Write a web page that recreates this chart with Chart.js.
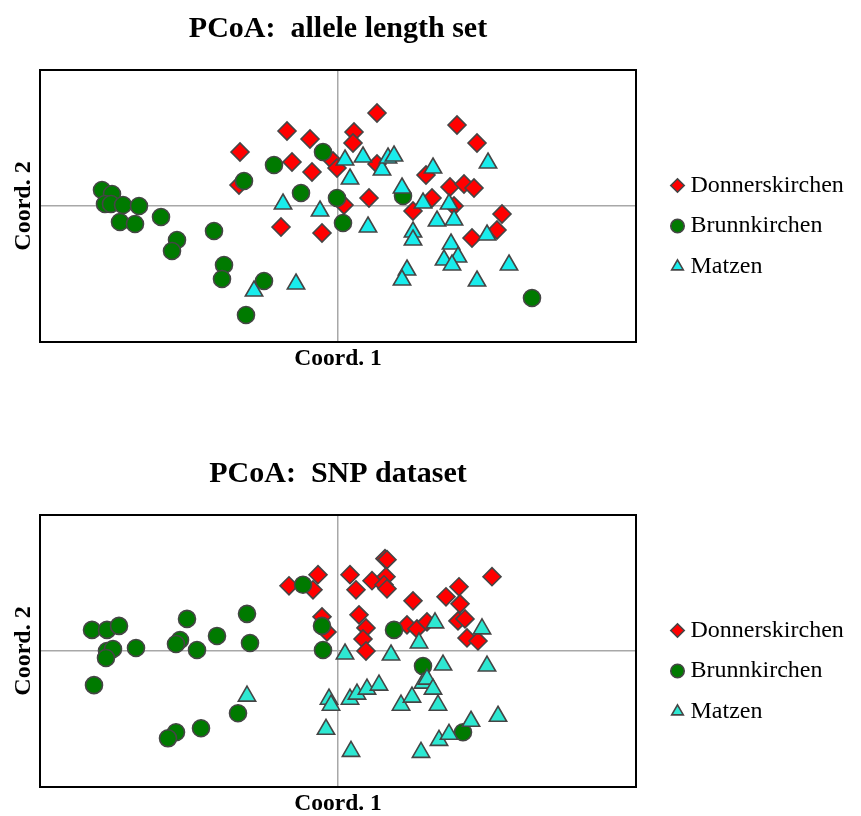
<!DOCTYPE html>
<html lang="en">
<head>
    <meta charset="UTF-8">
    <title>PCoA plots</title>
    <script src="https://cdn.jsdelivr.net/npm/chart.js"></script>
    <style>
        body {
            margin: 0;
            background: #fff;
            overflow: hidden;
        }
        .panel {
            position: absolute;
            left: 0;
            width: 861px;
            height: 400px;
        }
    </style>
</head>
<body>
    <div class="panel" style="top:0"><canvas id="alleleChart" width="861" height="400"></canvas></div>
    <div class="panel" style="top:445px"><canvas id="snpChart" width="861" height="400"></canvas></div>

    <script>
        // PCoA coordinates [Coord. 1, Coord. 2]
        const populations = ['Donnerskirchen', 'Brunnkirchen', 'Matzen'];

        const alleleDonners = [
            [-0.51, 0.75], [-0.98, 0.54], [-0.46, 0.44], [-0.99, 0.21], [-0.57, -0.21],
            [-0.28, 0.67], [0.16, 0.74], [0.15, 0.63], [0.39, 0.93], [1.19, 0.81],
            [1.39, 0.63], [-0.26, 0.34], [-0.05, 0.45], [-0.01, 0.38], [0.39, 0.42],
            [0.31, 0.08], [0.06, 0.01], [-0.16, -0.27], [0.88, 0.31], [0.75, -0.05],
            [0.94, 0.08], [1.12, 0.19], [1.26, 0.22], [1.36, 0.18], [1.16, 0.00],
            [1.64, -0.08], [1.59, -0.24], [1.34, -0.32]
        ];
        const alleleBrunn = [
            [-2.36, 0.16], [-2.26, 0.12], [-2.33, 0.02], [-2.27, 0.02], [-2.15, 0.01],
            [-1.99, 0.00], [-2.18, -0.16], [-2.03, -0.18], [-1.77, -0.11], [-1.61, -0.34],
            [-1.66, -0.45], [-1.24, -0.25], [-1.14, -0.59], [-1.16, -0.73], [-0.74, -0.75],
            [-0.92, -1.09], [-0.64, 0.41], [-0.94, 0.25], [-0.37, 0.13], [-0.15, 0.54],
            [-0.01, 0.08], [0.05, -0.17], [0.65, 0.10], [1.94, -0.92]
        ];
        const alleleMatzen = [
            [-0.55, 0.02], [-0.84, -0.85], [-0.42, -0.78], [-0.18, -0.05], [0.07, 0.46],
            [0.25, 0.49], [0.12, 0.27], [0.44, 0.36], [0.50, 0.48], [0.56, 0.50],
            [0.30, -0.21], [0.64, 0.18], [0.85, 0.03], [0.95, 0.38], [1.11, 0.02],
            [0.99, -0.15], [1.16, -0.14], [0.75, -0.26], [0.75, -0.34], [1.13, -0.38],
            [1.06, -0.54], [1.20, -0.51], [1.14, -0.59], [0.69, -0.64], [0.64, -0.74],
            [1.39, -0.75], [1.71, -0.59], [1.50, 0.43], [1.49, -0.29]
        ];

        const snpDonners = [
            [-0.49, 0.65], [-0.20, 0.76], [-0.25, 0.61], [0.12, 0.76], [0.18, 0.61],
            [0.34, 0.70], [0.47, 0.92], [0.49, 0.91], [0.48, 0.74], [0.46, 0.66],
            [0.49, 0.62], [0.75, 0.50], [1.08, 0.54], [1.21, 0.64], [1.22, 0.47],
            [1.54, 0.74], [1.20, 0.30], [1.27, 0.32], [1.29, 0.13], [1.40, 0.10],
            [0.21, 0.36], [0.28, 0.23], [0.25, 0.12], [0.28, 0.00], [-0.16, 0.34],
            [-0.11, 0.19], [0.69, 0.26], [0.79, 0.22], [0.89, 0.29]
        ];
        const snpBrunn = [
            [-2.46, 0.21], [-2.31, 0.21], [-2.19, 0.25], [-2.31, 0.00], [-2.25, 0.02],
            [-2.32, -0.07], [-2.02, 0.03], [-2.44, -0.34], [-1.51, 0.32], [-1.58, 0.11],
            [-1.62, 0.07], [-1.41, 0.01], [-1.21, 0.15], [-0.91, 0.37], [-0.88, 0.08],
            [-1.00, -0.62], [-1.37, -0.77], [-1.62, -0.81], [-1.70, -0.87], [-0.35, 0.66],
            [-0.16, 0.25], [-0.15, 0.01], [0.56, 0.21], [0.85, -0.15], [1.25, -0.81]
        ];
        const snpMatzen = [
            [-0.91, -0.45], [0.07, -0.03], [0.53, -0.04], [0.81, 0.08], [0.97, 0.28],
            [1.44, 0.22], [1.05, -0.14], [1.49, -0.15], [-0.09, -0.48], [-0.07, -0.54],
            [0.12, -0.48], [0.19, -0.43], [0.29, -0.38], [0.41, -0.34], [0.63, -0.54],
            [0.74, -0.46], [0.85, -0.32], [0.89, -0.28], [0.95, -0.38], [1.00, -0.54],
            [-0.12, -0.78], [0.13, -1.00], [0.83, -1.01], [1.01, -0.89], [1.11, -0.83],
            [1.33, -0.70], [1.60, -0.65]
        ];

        const serif = '"Liberation Serif", "Times New Roman", serif';

        // pin the legend width so the plot box ends where the original does
        const legendWidth = {
            id: 'legendWidth',
            beforeInit(chart) {
                const fit = chart.legend.fit;
                chart.legend.fit = function () {
                    fit.call(this);
                    this.width = 201;
                };
            }
        };

        function toPoints(pairs) {
            return pairs.map(p => ({ x: p[0], y: p[1] }));
        }

        function series(label, pairs, style, radius, color, order) {
            return {
                label: label,
                data: toPoints(pairs),
                pointStyle: style,
                pointRadius: radius,
                pointHoverRadius: radius,
                pointBackgroundColor: color,
                backgroundColor: color,
                pointBorderColor: '#454545',
                borderColor: '#454545',
                pointBorderWidth: 1.6,
                borderWidth: 1,
                order: order
            };
        }

        function zeroOnly(scale) {
            scale.ticks = [{ value: 0 }];
        }

        function makeChart(id, title, red, green, cyan, cyanColor, yMax) {
            return new Chart(document.getElementById(id), {
                type: 'scatter',
                data: {
                    datasets: [
                        series(populations[0], red, 'rectRot', 9, '#ff0000', 3),
                        series(populations[1], green, 'circle', 8.5, '#007a00', 2),
                        series(populations[2], cyan, 'triangle', 10, cyanColor, 1)
                    ]
                },
                options: {
                    responsive: false,
                    animation: false,
                    events: [],
                    devicePixelRatio: 1,
                    plugins: {
                        tooltip: { enabled: false },
                        title: {
                            display: true,
                            text: title,
                            fullSize: false,
                            color: '#000',
                            font: { family: serif, size: 30, weight: 'bold' },
                            padding: { top: 11, bottom: 23 }
                        },
                        legend: {
                            position: 'right',
                            align: 'start',
                            title: {
                                display: true,
                                text: '',
                                font: { size: 1, lineHeight: 1 },
                                padding: { top: 156, bottom: 0 }
                            },
                            labels: {
                                usePointStyle: true,
                                boxWidth: 2,
                                boxHeight: 9.5,
                                padding: 16.5,
                                color: '#000',
                                font: { family: serif, size: 24 },
                                sort: (a, b) => a.datasetIndex - b.datasetIndex
                            }
                        }
                    },
                    scales: {
                        x: {
                            type: 'linear',
                            min: -2.98,
                            max: 2.98,
                            afterBuildTicks: zeroOnly,
                            afterFit: s => { s.height = 58; },
                            ticks: { display: false },
                            grid: { color: '#a8a8a8', lineWidth: 1.5, drawTicks: false },
                            border: { display: true, color: '#000', width: 2 },
                            title: {
                                display: true,
                                text: 'Coord. 1',
                                color: '#000',
                                font: { family: serif, size: 23.5, weight: 'bold' },
                                padding: { top: 0, bottom: 26.5 }
                            }
                        },
                        y: {
                            type: 'linear',
                            min: -yMax,
                            max: yMax,
                            afterBuildTicks: zeroOnly,
                            afterFit: s => { s.width = 40; },
                            ticks: { display: false },
                            grid: { color: '#a8a8a8', lineWidth: 1.5, drawTicks: false },
                            border: { display: true, color: '#000', width: 2 },
                            title: {
                                display: true,
                                text: 'Coord. 2',
                                color: '#000',
                                font: { family: serif, size: 24, weight: 'bold' },
                                padding: { top: 9, bottom: 0 }
                            }
                        },
                        xTop: {
                            type: 'linear',
                            position: 'top',
                            afterFit: s => { s.height = 0; },
                            ticks: { display: false },
                            grid: { display: false },
                            border: { display: true, color: '#000', width: 2 }
                        },
                        yRight: {
                            type: 'linear',
                            position: 'right',
                            afterFit: s => { s.width = 24; },
                            ticks: { display: false },
                            grid: { display: false },
                            border: { display: true, color: '#000', width: 2 }
                        }
                    }
                },
                plugins: [legendWidth]
            });
        }

        makeChart('alleleChart', 'PCoA:  allele length set',
            alleleDonners, alleleBrunn, alleleMatzen, '#19ecec', 1.36);
        makeChart('snpChart', 'PCoA:  SNP dataset',
            snpDonners, snpBrunn, snpMatzen, '#2de8d2', 1.355);
    </script>
</body>
</html>
